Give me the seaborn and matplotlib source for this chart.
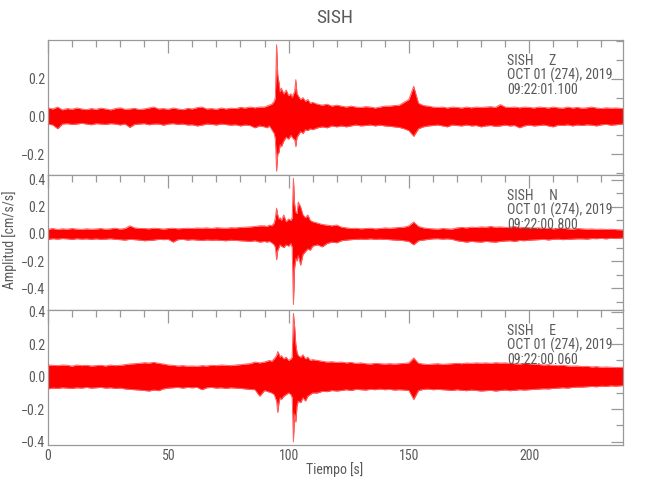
import matplotlib
matplotlib.use("Agg")
import numpy as np
import pandas as pd
import seaborn as sns
import matplotlib.pyplot as plt
from matplotlib import font_manager
from matplotlib.ticker import MultipleLocator, FuncFormatter, FixedLocator

# ---------------- data (envelope of each trace) ----------------
TIME = (
    [0, 2, 4, 6, 8, 10, 12, 14, 16, 18,
     20, 22, 24, 26, 28, 30, 32, 34, 36, 38,
     40, 42, 44, 46, 48, 50, 52, 54, 56, 58,
     60, 62, 64, 66, 68, 70, 72, 74, 76, 78,
     80, 82, 84, 86, 88]
    + [90, 91, 92, 93, 94,
       94.5, 95, 95.5, 96, 96.5, 97,
       98, 99, 100, 101,
       101.5, 102, 102.5, 103, 103.5, 104,
       105, 106, 107, 108, 109, 110,
       112, 114, 116, 118, 120]
    + [122, 124, 126, 128, 130, 132, 134, 136, 138, 140,
       142, 144, 146, 148, 150, 152, 154, 156, 158, 160,
       162, 164, 166, 168, 170, 172, 174, 176, 178, 180,
       182, 184, 186, 188, 190, 192, 194, 196, 198, 200,
       202, 204, 206, 208, 210, 212, 214, 216, 218, 220,
       222, 224, 226, 228, 230, 232, 234, 236, 239]
)

Z_UP = (
    [0.045, 0.040, 0.050, 0.035, 0.042, 0.038, 0.045, 0.040, 0.036, 0.042,
     0.038, 0.044, 0.040, 0.035, 0.042, 0.046, 0.038, 0.040, 0.043, 0.037,
     0.040, 0.045, 0.050, 0.040, 0.042, 0.038, 0.045, 0.040, 0.036, 0.043,
     0.040, 0.047, 0.050, 0.040, 0.042, 0.038, 0.045, 0.040, 0.044, 0.042,
     0.048, 0.045, 0.050, 0.046, 0.050]
    + [0.050, 0.055, 0.060, 0.065, 0.080,
       0.100, 0.380, 0.220, 0.180, 0.130, 0.150,
       0.120, 0.140, 0.110, 0.120,
       0.100, 0.120, 0.130, 0.195, 0.120, 0.110,
       0.090, 0.100, 0.080, 0.090, 0.070, 0.075,
       0.065, 0.060, 0.065, 0.055, 0.060]
    + [0.055, 0.050, 0.055, 0.050, 0.048, 0.052, 0.050, 0.045, 0.050, 0.055,
       0.055, 0.058, 0.060, 0.075, 0.090, 0.160, 0.070, 0.058, 0.055, 0.050,
       0.048, 0.050, 0.045, 0.050, 0.048, 0.045, 0.050, 0.046, 0.050, 0.048,
       0.050, 0.052, 0.048, 0.063, 0.050, 0.048, 0.050, 0.046, 0.050, 0.048,
       0.045, 0.050, 0.048, 0.045, 0.050, 0.046, 0.044, 0.050, 0.045, 0.048,
       0.044, 0.046, 0.050, 0.045, 0.042, 0.046, 0.044, 0.045, 0.042]
)
Z_LO = (
    [-0.040, -0.045, -0.065, -0.040, -0.038, -0.042, -0.040, -0.036, -0.040, -0.044,
     -0.038, -0.040, -0.042, -0.038, -0.040, -0.045, -0.040, -0.058, -0.042, -0.040,
     -0.038, -0.044, -0.040, -0.040, -0.046, -0.040, -0.038, -0.042, -0.040, -0.045,
     -0.044, -0.050, -0.046, -0.040, -0.042, -0.045, -0.040, -0.043, -0.046, -0.044,
     -0.050, -0.045, -0.048, -0.060, -0.050]
    + [-0.055, -0.060, -0.050, -0.070, -0.090,
       -0.120, -0.290, -0.200, -0.190, -0.150, -0.160,
       -0.130, -0.110, -0.120, -0.100,
       -0.110, -0.120, -0.120, -0.160, -0.110, -0.100,
       -0.080, -0.090, -0.070, -0.075, -0.065, -0.070,
       -0.060, -0.055, -0.060, -0.050, -0.055]
    + [-0.050, -0.055, -0.050, -0.045, -0.050, -0.048, -0.045, -0.050, -0.046, -0.050,
       -0.052, -0.055, -0.058, -0.065, -0.075, -0.105, -0.065, -0.055, -0.050, -0.048,
       -0.045, -0.050, -0.055, -0.045, -0.048, -0.050, -0.045, -0.050, -0.048, -0.055,
       -0.050, -0.048, -0.052, -0.050, -0.046, -0.050, -0.048, -0.060, -0.050, -0.046,
       -0.050, -0.048, -0.045, -0.050, -0.055, -0.046, -0.048, -0.044, -0.050, -0.045,
       -0.048, -0.044, -0.046, -0.050, -0.044, -0.042, -0.046, -0.044, -0.040]
)

N_UP = (
    [0.035, 0.040, 0.033, 0.038, 0.035, 0.040, 0.036, 0.034, 0.038, 0.035,
     0.037, 0.040, 0.035, 0.038, 0.042, 0.036, 0.040, 0.060, 0.045, 0.040,
     0.040, 0.038, 0.042, 0.040, 0.036, 0.040, 0.042, 0.038, 0.040, 0.042,
     0.040, 0.044, 0.042, 0.045, 0.040, 0.046, 0.044, 0.042, 0.046, 0.045,
     0.048, 0.050, 0.052, 0.055, 0.060]
    + [0.060, 0.055, 0.065, 0.060, 0.080,
       0.120, 0.190, 0.140, 0.110, 0.120, 0.100,
       0.140, 0.090, 0.110, 0.100,
       0.120, 0.410, 0.220, 0.160, 0.150, 0.235,
       0.200, 0.140, 0.120, 0.140, 0.100, 0.090,
       0.080, 0.070, 0.065, 0.060, 0.066]
    + [0.050, 0.045, 0.040, 0.042, 0.038, 0.040, 0.042, 0.038, 0.040, 0.045,
       0.042, 0.045, 0.048, 0.050, 0.060, 0.088, 0.055, 0.045, 0.040, 0.038,
       0.036, 0.040, 0.038, 0.036, 0.045, 0.048, 0.045, 0.050, 0.048, 0.052,
       0.050, 0.055, 0.050, 0.052, 0.048, 0.050, 0.055, 0.046, 0.048, 0.045,
       0.042, 0.045, 0.040, 0.042, 0.038, 0.040, 0.042, 0.038, 0.036, 0.040,
       0.038, 0.035, 0.037, 0.034, 0.036, 0.033, 0.035, 0.032, 0.030]
)
N_LO = (
    [-0.040, -0.035, -0.038, -0.034, -0.036, -0.040, -0.035, -0.038, -0.036, -0.040,
     -0.036, -0.040, -0.038, -0.035, -0.040, -0.042, -0.045, -0.040, -0.042, -0.045,
     -0.050, -0.048, -0.045, -0.040, -0.042, -0.040, -0.060, -0.042, -0.040, -0.045,
     -0.042, -0.045, -0.048, -0.044, -0.046, -0.045, -0.048, -0.050, -0.046, -0.048,
     -0.050, -0.052, -0.055, -0.050, -0.060]
    + [-0.055, -0.060, -0.055, -0.065, -0.080,
       -0.100, -0.190, -0.120, -0.100, -0.080, -0.090,
       -0.100, -0.080, -0.090, -0.070,
       -0.100, -0.520, -0.250, -0.180, -0.200, -0.160,
       -0.230, -0.150, -0.130, -0.110, -0.120, -0.090,
       -0.080, -0.095, -0.070, -0.060, -0.065]
    + [-0.050, -0.045, -0.042, -0.040, -0.038, -0.040, -0.036, -0.040, -0.038, -0.040,
       -0.042, -0.045, -0.046, -0.050, -0.055, -0.080, -0.050, -0.045, -0.040, -0.036,
       -0.035, -0.038, -0.036, -0.040, -0.050, -0.055, -0.060, -0.055, -0.058, -0.060,
       -0.055, -0.058, -0.060, -0.055, -0.052, -0.050, -0.055, -0.048, -0.050, -0.046,
       -0.044, -0.042, -0.040, -0.044, -0.040, -0.038, -0.042, -0.040, -0.038, -0.036,
       -0.036, -0.038, -0.034, -0.035, -0.033, -0.036, -0.032, -0.034, -0.030]
)

E_UP = (
    [0.072, 0.070, 0.068, 0.072, 0.070, 0.065, 0.072, 0.068, 0.070, 0.066,
     0.068, 0.070, 0.066, 0.072, 0.068, 0.070, 0.074, 0.078, 0.080, 0.082,
     0.086, 0.084, 0.088, 0.082, 0.078, 0.072, 0.070, 0.066, 0.068, 0.065,
     0.066, 0.064, 0.068, 0.066, 0.070, 0.068, 0.072, 0.070, 0.068, 0.072,
     0.074, 0.078, 0.080, 0.090, 0.085]
    + [0.090, 0.095, 0.100, 0.095, 0.110,
       0.120, 0.130, 0.155, 0.140, 0.120, 0.130,
       0.110, 0.120, 0.100, 0.110,
       0.120, 0.390, 0.310, 0.200, 0.150, 0.130,
       0.120, 0.135, 0.110, 0.120, 0.100, 0.105,
       0.100, 0.095, 0.090, 0.092, 0.088]
    + [0.090, 0.085, 0.088, 0.082, 0.085, 0.080, 0.078, 0.082, 0.080, 0.078,
       0.080, 0.078, 0.080, 0.082, 0.085, 0.115, 0.082, 0.078, 0.075, 0.078,
       0.080, 0.076, 0.078, 0.080, 0.082, 0.080, 0.084, 0.082, 0.085, 0.083,
       0.085, 0.082, 0.086, 0.084, 0.085, 0.082, 0.080, 0.078, 0.082, 0.080,
       0.078, 0.075, 0.072, 0.074, 0.070, 0.068, 0.070, 0.066, 0.065, 0.066,
       0.062, 0.064, 0.060, 0.062, 0.058, 0.060, 0.058, 0.056, 0.058]
)
E_LO = (
    [-0.075, -0.070, -0.072, -0.068, -0.070, -0.072, -0.068, -0.070, -0.066, -0.070,
     -0.068, -0.066, -0.070, -0.068, -0.072, -0.070, -0.075, -0.078, -0.080, -0.082,
     -0.085, -0.088, -0.082, -0.086, -0.075, -0.070, -0.068, -0.066, -0.070, -0.066,
     -0.068, -0.066, -0.080, -0.068, -0.066, -0.070, -0.068, -0.072, -0.068, -0.070,
     -0.072, -0.075, -0.078, -0.080, -0.120]
    + [-0.085, -0.090, -0.095, -0.100, -0.110,
       -0.130, -0.150, -0.220, -0.160, -0.130, -0.140,
       -0.120, -0.110, -0.100, -0.110,
       -0.130, -0.400, -0.230, -0.280, -0.180, -0.150,
       -0.160, -0.130, -0.150, -0.120, -0.110, -0.100,
       -0.100, -0.090, -0.092, -0.085, -0.088]
    + [-0.085, -0.080, -0.085, -0.078, -0.080, -0.082, -0.078, -0.080, -0.076, -0.080,
       -0.078, -0.082, -0.080, -0.082, -0.085, -0.140, -0.085, -0.078, -0.076, -0.080,
       -0.078, -0.080, -0.082, -0.085, -0.080, -0.084, -0.086, -0.082, -0.085, -0.088,
       -0.086, -0.084, -0.088, -0.085, -0.082, -0.086, -0.084, -0.080, -0.082, -0.080,
       -0.078, -0.076, -0.074, -0.075, -0.072, -0.070, -0.068, -0.070, -0.066, -0.064,
       -0.064, -0.062, -0.060, -0.062, -0.058, -0.060, -0.056, -0.058, -0.055]
)

COMPONENTS = ["Z", "N", "E"]
START_TIMES = ["09:22:01.100", "09:22:00.800", "09:22:00.060"]
DATE_LABEL = "OCT 01 (274), 2019"
STATION = "SISH"
YLIMS = [(-0.31, 0.405), (-0.56, 0.434), (-0.42, 0.41)]
Y_MAJOR = [[-0.2, 0.0, 0.2], [-0.4, -0.2, 0.0, 0.2, 0.4], [-0.4, -0.2, 0.0, 0.2, 0.4]]
X_TICKS = [0, 50, 100, 150, 200]

# ---------------- style ----------------
sns.set_style("white")
available = {f.name for f in font_manager.fontManager.ttflist}
preferred = ["Liberation Sans Narrow", "DejaVu Sans Condensed", "Roboto Condensed",
             "Open Sans Condensed", "Roboto"]
family = [f for f in preferred if f in available] + ["DejaVu Sans"]
plt.rcParams["font.family"] = family
narrow = family[0] in ("Liberation Sans Narrow", "DejaVu Sans Condensed",
                       "Roboto Condensed", "Open Sans Condensed")
WEIGHT = "normal" if narrow else "light"
FS = 10 if narrow else 9
FS_TICK = 10 if narrow else 8.5
plt.rcParams["font.weight"] = WEIGHT

GRAY = "#5a5a5a"
SPINE = "#999999"

fig = plt.figure(figsize=(6.5, 5), dpi=100)
left, width, h = 48 / 650, 575 / 650, 0.27
bottoms = [1 - 175 / 500, 1 - 310 / 500, 1 - 445 / 500]

traces = [(Z_UP, Z_LO), (N_UP, N_LO), (E_UP, E_LO)]
fmt = FuncFormatter(lambda v, p: f"{v:.1f}".replace("-", "\u2212"))

for i, (up, lo) in enumerate(traces):
    assert len(up) == len(TIME) and len(lo) == len(TIME)
    ax = fig.add_axes([left, bottoms[i], width, h])
    df = pd.DataFrame({"t": TIME, "up": up, "lo": lo})
    ax.fill_between(df["t"], df["lo"], df["up"], color="#ff0000", lw=0, zorder=2)
    sns.lineplot(data=df, x="t", y="up", ax=ax, color="#ff6060", lw=0.7, zorder=3)
    sns.lineplot(data=df, x="t", y="lo", ax=ax, color="#ff6060", lw=0.7, zorder=3)
    ax.set_xlim(0, 239)
    ax.set_ylim(*YLIMS[i])
    ax.xaxis.set_major_locator(MultipleLocator(50))
    ax.xaxis.set_minor_locator(MultipleLocator(10))
    ax.yaxis.set_major_locator(FixedLocator(Y_MAJOR[i]))
    ax.yaxis.set_minor_locator(MultipleLocator(0.1))
    ax.yaxis.set_major_formatter(fmt)
    ax.tick_params(which="both", direction="in", top=True, right=True,
                   color=SPINE, labelcolor=GRAY, labelsize=FS_TICK, width=0.9)
    ax.tick_params(which="major", length=9, pad=2)
    ax.tick_params(which="minor", length=5)
    for s in ax.spines.values():
        s.set_color(SPINE)
        s.set_linewidth(0.9)
    ax.set_xlabel("")
    ax.set_ylabel("")
    if i < 2:
        ax.tick_params(labelbottom=False)
    else:
        ax.set_xticks(X_TICKS)
        ax.set_xticklabels([str(v) for v in X_TICKS])
        ax.tick_params(axis="x", pad=3)
    tx = (507 - 48) / 575
    ax.text(tx, 1 - 21 / 135, f"{STATION}     {COMPONENTS[i]}", transform=ax.transAxes,
            color=GRAY, fontsize=FS, va="center", ha="left", zorder=5)
    ax.text(tx, 1 - 35.5 / 135, DATE_LABEL, transform=ax.transAxes,
            color=GRAY, fontsize=FS, va="center", ha="left", zorder=5)
    ax.text(tx, 1 - 50 / 135, START_TIMES[i], transform=ax.transAxes,
            color=GRAY, fontsize=FS, va="center", ha="left", zorder=5)

fig.text(335 / 650, 1 - 18 / 500, STATION, color=GRAY, fontsize=14, ha="center", va="center")
fig.text(335 / 650, 1 - 470 / 500, "Tiempo [s]", color=GRAY, fontsize=FS, ha="center", va="center")
fig.text(10 / 650, 1 - 240 / 500, "Amplitud [cm/s/s]", color=GRAY, fontsize=FS,
         ha="center", va="center", rotation=90)

fig.savefig("out.png", dpi=100, facecolor="white")
